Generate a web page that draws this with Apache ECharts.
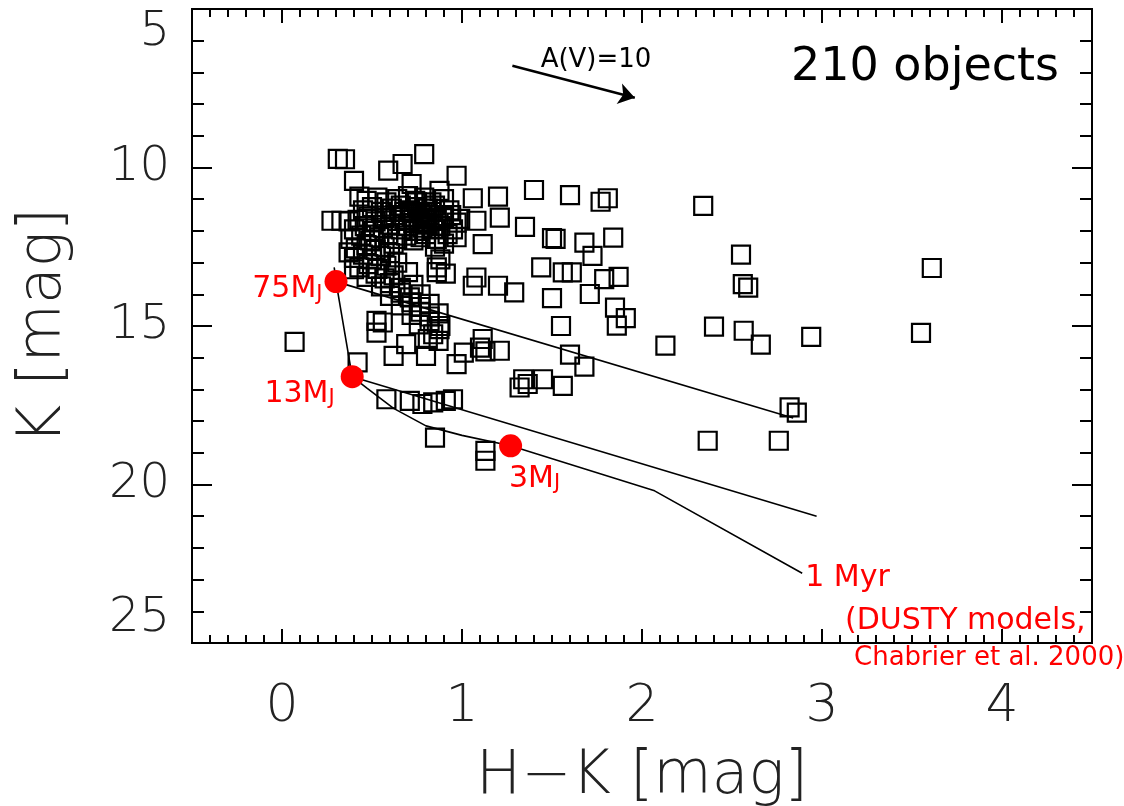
<!DOCTYPE html>
<html>
<head>
<meta charset="utf-8">
<script src="https://cdn.jsdelivr.net/npm/echarts@6/dist/echarts.min.js"></script>
<style>
html, body { margin: 0; padding: 0; background: #fff; }
#main { width: 1124px; height: 806px; }
</style>
</head>
<body>
<div id="main"></div>
<script>
// objects outside the dense core, [H-K, K]
var fieldObjects = [
  [0.31, 9.73], [0.35, 9.74], [0.79, 9.58], [0.59, 10.10], [0.67, 9.89], [0.40, 10.42],
  [0.97, 10.26], [0.72, 10.52], [0.875, 10.74], [1.06, 10.97], [1.20, 10.92], [1.40, 10.71],
  [1.60, 10.87], [1.77, 11.08], [1.81, 10.97], [0.43, 10.92], [0.275, 11.68], [0.33, 11.68],
  [0.37, 11.70], [0.97, 11.74], [1.08, 11.68], [1.21, 11.58], [1.35, 11.87], [1.50, 12.23],
  [1.52, 12.25], [1.68, 12.37], [1.84, 12.21], [1.725, 12.79], [0.37, 12.68], [0.40, 13.21],
  [1.44, 13.15], [1.56, 13.31], [1.61, 13.31], [1.79, 13.52], [1.87, 13.45], [0.86, 13.15],
  [0.91, 13.35], [1.08, 13.47], [1.115, 12.42], [1.06, 13.73], [1.20, 13.73], [1.29, 13.94],
  [1.50, 14.12], [1.71, 13.99], [1.85, 14.42], [1.91, 14.75], [1.86, 14.99], [1.55, 15.00],
  [2.13, 15.62], [0.07, 15.50], [0.42, 16.15], [0.525, 14.84], [0.56, 14.89], [0.525, 15.21],
  [0.62, 15.94], [0.69, 15.57], [0.80, 15.94], [0.81, 15.41], [0.84, 15.26], [0.875, 15.10],
  [0.87, 15.47], [0.97, 16.20], [1.01, 15.84], [1.10, 15.68], [1.115, 15.41], [1.21, 15.78],
  [1.13, 15.80], [1.60, 15.90], [1.68, 16.28], [1.34, 16.68], [1.365, 16.83], [1.45, 16.68],
  [1.56, 16.89], [1.32, 16.94], [0.58, 17.31], [0.71, 17.36], [0.78, 17.46], [0.84, 17.41],
  [0.91, 17.36], [0.95, 17.31], [0.85, 18.52], [1.13, 18.94], [1.13, 19.25], [2.34, 11.21],
  [2.55, 12.75], [2.56, 13.68], [2.59, 13.79], [3.61, 13.17], [2.40, 15.02], [2.565, 15.15],
  [2.66, 15.59], [2.94, 15.34], [3.55, 15.22], [2.82, 17.57], [2.86, 17.73], [2.365, 18.62],
  [2.76, 18.62]
];

// dense core of the cluster
var coreObjects = [
  [0.47, 11.05], [0.53, 10.95], [0.58, 11.10], [0.64, 11.00], [0.70, 10.90], [0.74, 11.05],
  [0.79, 10.95], [0.83, 11.10], [0.90, 11.00],
  [0.45, 11.35], [0.50, 11.25], [0.55, 11.40], [0.61, 11.30], [0.66, 11.20], [0.71, 11.35],
  [0.75, 11.25], [0.78, 11.40], [0.81, 11.30], [0.85, 11.20], [0.93, 11.35],
  [0.42, 11.65], [0.48, 11.55], [0.52, 11.70], [0.57, 11.60], [0.63, 11.50], [0.68, 11.65],
  [0.72, 11.55], [0.76, 11.70], [0.79, 11.60], [0.82, 11.50], [0.86, 11.65], [0.90, 11.60],
  [0.40, 11.95], [0.46, 11.85], [0.51, 12.00], [0.56, 11.90], [0.60, 11.80], [0.66, 11.95],
  [0.70, 11.85], [0.74, 12.00], [0.78, 11.90], [0.81, 11.80], [0.84, 11.95], [0.88, 11.85],
  [0.95, 11.95],
  [0.38, 12.25], [0.44, 12.15], [0.49, 12.30], [0.54, 12.20], [0.59, 12.10], [0.64, 12.25],
  [0.69, 12.15], [0.73, 12.30], [0.77, 12.20], [0.80, 12.10], [0.86, 12.25],
  [0.41, 12.55], [0.47, 12.45], [0.52, 12.60], [0.57, 12.50], [0.62, 12.40], [0.85, 12.50],
  [0.40, 12.85], [0.45, 12.75], [0.50, 12.90], [0.55, 12.80], [0.60, 12.70], [0.88, 12.90],
  [0.43, 13.15], [0.48, 13.05], [0.53, 13.20], [0.58, 13.10], [0.64, 13.00], [0.86, 13.30],
  [0.47, 13.45], [0.52, 13.35], [0.57, 13.50], [0.62, 13.40], [0.70, 13.30],
  [0.55, 13.75], [0.60, 13.65], [0.66, 13.80], [0.73, 13.70],
  [0.60, 14.05], [0.66, 13.95], [0.71, 14.10], [0.77, 14.00],
  [0.66, 14.35], [0.72, 14.25], [0.77, 14.40], [0.82, 14.30],
  [0.72, 14.65], [0.77, 14.55], [0.82, 14.70], [0.87, 14.60],
  [0.76, 14.95], [0.82, 14.85], [0.88, 15.00],
  [0.94, 11.50], [0.99, 11.62], [0.92, 12.10], [0.97, 12.20], [0.90, 12.40],
  [0.75, 11.10], [0.77, 11.45], [0.80, 11.75], [0.73, 11.75], [0.83, 11.40], [0.76, 12.00],
  [0.68, 11.40]
];

// 1 Myr DUSTY isochrone and reddening lines
var isochrone1Myr = [
  [0.29, 13.15], [0.30, 13.60], [0.39, 16.60], [0.47, 16.95], [0.62, 17.60], [0.80, 18.15],
  [1.00, 18.45], [1.27, 18.78], [2.07, 20.20], [2.89, 22.80]
];
var reddening75 = [[0.30, 13.60], [2.84, 17.90]];
var reddening13 = [[0.39, 16.60], [2.97, 21.00]];

var massPoints = [[0.30, 13.60], [0.39, 16.60], [1.27, 18.78]];
var massNames = ['75M', '13M', '3M'];

var avArrow = [[1.28, 6.79], [1.96, 7.80]];

var xMajorTicks = [0, 1, 2, 3, 4];
var xMinorTicks = [];
for (var i = -4; i <= 44; i++) {
  if (i % 10 !== 0) xMinorTicks.push(i / 10);
}

var chart = echarts.init(document.getElementById('main'));

var FONT = 'DejaVu Sans';
var RED = '#ff0000';

function xAx(pos, ticks, len, withLabels) {
  var a = {
    type: 'value', position: pos, min: -0.5, max: 4.5,
    axisLine: { show: true, onZero: false, lineStyle: { color: '#000', width: 2 } },
    axisTick: { show: true, inside: true, length: len, customValues: ticks, lineStyle: { color: '#000', width: 2 } },
    axisLabel: { show: false },
    splitLine: { show: false }
  };
  if (withLabels) {
    a.axisLabel = {
      show: true, customValues: xMajorTicks, margin: 38, fontSize: 52,
      fontFamily: FONT, fontWeight: 200, color: '#222'
    };
    a.name = 'H\u2212K [mag]';
    a.nameLocation = 'middle';
    a.nameGap = 104;
    a.nameTextStyle = { fontSize: 60, fontFamily: FONT, fontWeight: 200, color: '#222' };
  }
  return a;
}

function yAx(pos, withLabels) {
  var a = {
    type: 'value', position: pos, inverse: true, min: 5, max: 25, interval: 5,
    axisLine: { show: true, onZero: false, lineStyle: { color: '#000', width: 2 } },
    axisTick: { show: true, inside: true, length: 20, lineStyle: { color: '#000', width: 2 } },
    minorTick: { show: true, splitNumber: 5, length: 12, lineStyle: { color: '#000', width: 2 } },
    axisLabel: { show: false },
    splitLine: { show: false }
  };
  if (withLabels) {
    a.axisLabel = {
      show: true, margin: 22, fontSize: 48, fontFamily: FONT, fontWeight: 200, color: '#222',
      verticalAlignMinLabel: 'top', verticalAlignMaxLabel: 'bottom'
    };
    a.name = 'K [mag]';
    a.nameLocation = 'middle';
    a.nameGap = 118;
    a.nameTextStyle = { fontSize: 60, fontFamily: FONT, fontWeight: 200, color: '#222' };
  }
  return a;
}

var massLabels = [
  { position: 'left', distance: 2, offset: [0, 6] },
  { position: 'left', distance: 6, offset: [0, 15] },
  { position: 'bottom', distance: 3, offset: [24, 0] }
];

var option = {
  animation: false,
  backgroundColor: '#fff',
  grid: { left: 192, right: 32, top: 9, bottom: 163, containLabel: false, outerBoundsMode: 'none' },
  xAxis: [
    xAx('bottom', xMajorTicks, 14, true),
    xAx('bottom', xMinorTicks, 8, false),
    xAx('top', xMajorTicks, 14, false),
    xAx('top', xMinorTicks, 8, false)
  ],
  yAxis: [yAx('left', true), yAx('right', false)],
  series: [
    {
      type: 'scatter', name: 'objects',
      data: fieldObjects.concat(coreObjects),
      symbol: 'rect', symbolSize: 18,
      itemStyle: { color: 'rgba(0,0,0,0)', borderColor: '#000', borderWidth: 2.2, opacity: 1 },
      z: 2
    },
    {
      type: 'line', name: '1 Myr', data: isochrone1Myr,
      showSymbol: false, symbol: 'none',
      lineStyle: { color: '#000', width: 1.6 },
      endLabel: {
        show: true, formatter: '1 Myr', fontSize: 30, distance: 3, offset: [0, 5],
        fontFamily: FONT, color: RED
      },
      z: 3
    },
    {
      type: 'line', data: reddening75, showSymbol: false, symbol: 'none',
      lineStyle: { color: '#000', width: 1.6 }, z: 3
    },
    {
      type: 'line', data: reddening13, showSymbol: false, symbol: 'none',
      lineStyle: { color: '#000', width: 1.6 }, z: 3
    },
    {
      type: 'scatter', name: 'masses',
      data: massPoints.map(function (p, i) {
        return { value: p, name: massNames[i], label: massLabels[i] };
      }),
      symbol: 'circle', symbolSize: 23,
      itemStyle: { color: RED, opacity: 1 },
      label: {
        show: true,
        formatter: function (p) { return '{m|' + p.name + '}{j|J}'; },
        rich: {
          m: { fontSize: 30, fontFamily: FONT, color: RED, verticalAlign: 'bottom', lineHeight: 34 },
          j: { fontSize: 21, fontFamily: FONT, color: RED, verticalAlign: 'bottom', lineHeight: 34 }
        }
      },
      z: 5
    },
    {
      type: 'lines', coordinateSystem: 'cartesian2d',
      data: [{ coords: avArrow }],
      symbol: ['none', 'arrow'], symbolSize: 16,
      lineStyle: { color: '#000', width: 2.5, opacity: 1 },
      z: 4
    }
  ],
  graphic: [
    {
      type: 'text', x: 925, y: 68,
      style: { text: '210 objects', fontSize: 46, fontFamily: FONT, fill: '#000', align: 'center', verticalAlign: 'middle' }
    },
    {
      type: 'text', x: 596, y: 60,
      style: { text: 'A(V)=10', fontSize: 26, fontFamily: FONT, fill: '#000', align: 'center', verticalAlign: 'middle' }
    },
    {
      type: 'text', x: 845, y: 621,
      style: { text: '(DUSTY models,', fontSize: 30, fontFamily: FONT, fill: RED, align: 'left', verticalAlign: 'middle' }
    },
    {
      type: 'text', x: 854, y: 658,
      style: { text: 'Chabrier et al. 2000)', fontSize: 26, fontFamily: FONT, fill: RED, align: 'left', verticalAlign: 'middle' }
    }
  ]
};

chart.setOption(option);
</script>
</body>
</html>
